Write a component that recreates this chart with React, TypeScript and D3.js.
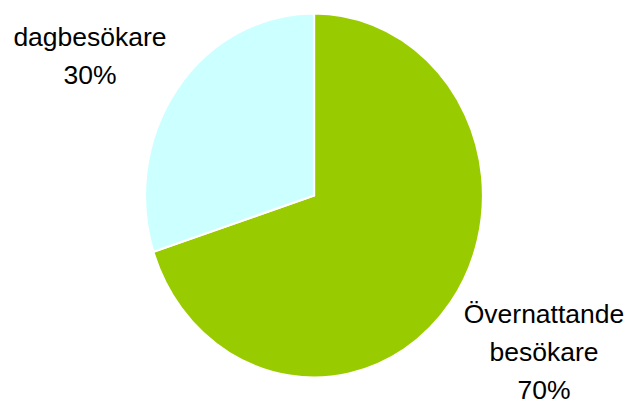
import React from "react";
import * as d3 from "d3";

const categories = ["Övernattande besökare", "dagbesökare"];
const values = [70, 30];
const colors = ["#99CC00", "#CCFFFF"];
const labelLines = [["Övernattande", "besökare", "70%"], ["dagbesökare", "30%"]];

export default function App() {
  const W = 630, H = 403;
  const cx = 314, cy = 195.5, rx = 169, ry = 182;
  const pie = d3.pie<number>().sort(null).value((d) => d);
  const arcs = pie(values);
  const arc = d3.arc<d3.PieArcDatum<number>>().innerRadius(0).outerRadius(rx);
  const labelPos = [
    { x: 544, y: 323 },
    { x: 90, y: 46 },
  ];
  return (
    <svg width={W} height={H} style={{ position: "absolute", left: 0, top: 0 }}>
      <rect width={W} height={H} fill="#fff" />
      <g transform={`translate(${cx},${cy}) scale(1,${ry / rx})`}>
        {arcs.map((a, i) => (
          <path key={categories[i]} d={arc(a) || ""} fill={colors[i]} stroke="#fff" strokeWidth={2.2} vectorEffect="non-scaling-stroke" />
        ))}
      </g>
      {labelLines.map((lines, i) => (
        <text key={i} textAnchor="middle" fontFamily="Liberation Sans, Arial, sans-serif" fontSize={26.5} fill="#000">
          {lines.map((l, j) => (
            <tspan key={j} x={labelPos[i].x} y={labelPos[i].y + j * 38.2}>{l}</tspan>
          ))}
        </text>
      ))}
    </svg>
  );
}
